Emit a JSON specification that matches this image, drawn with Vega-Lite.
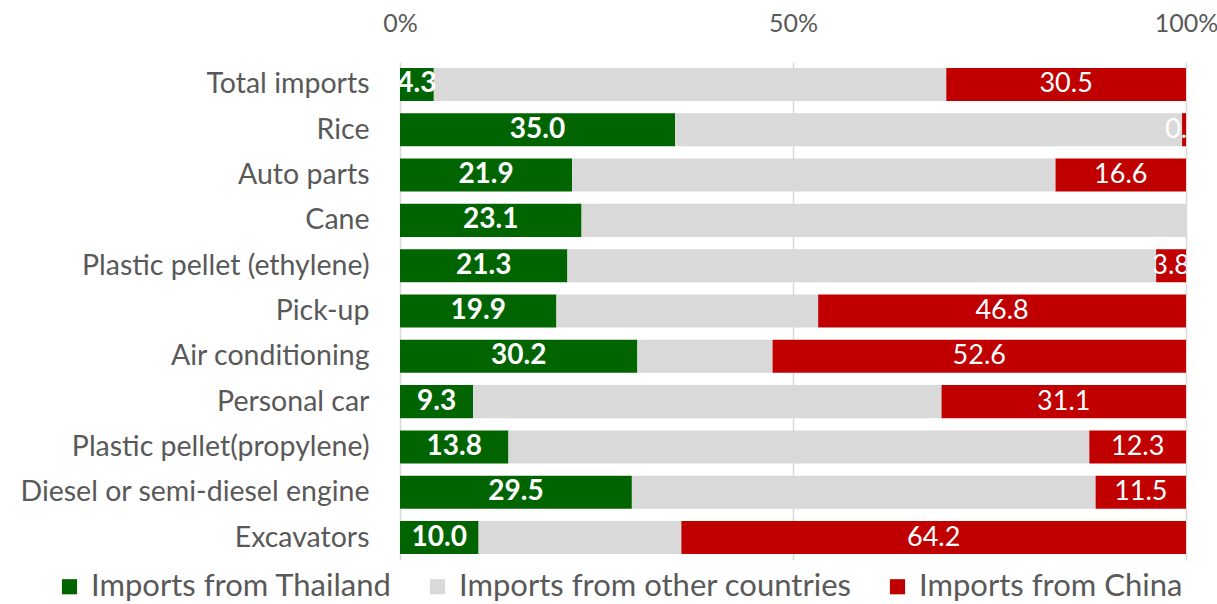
{
  "$schema": "https://vega.github.io/schema/vega-lite/v6.json",
  "width": 786,
  "height": 498,
  "autosize": "none",
  "padding": {"left": 400, "top": 62, "right": 31, "bottom": 44},
  "background": "white",
  "config": {
    "font": "Lato",
    "view": {"stroke": null},
    "axis": {"labelColor": "#595959", "labelFont": "Lato", "domain": false, "ticks": false, "title": null},
    "legend": {"labelColor": "#595959", "labelFont": "Lato"}
  },
  "data": {
    "values": [
      {"category": "Total imports", "series": "Imports from Thailand", "value": 4.3},
      {"category": "Total imports", "series": "Imports from other countries", "value": 65.2},
      {"category": "Total imports", "series": "Imports from China", "value": 30.5},
      {"category": "Rice", "series": "Imports from Thailand", "value": 35.0},
      {"category": "Rice", "series": "Imports from other countries", "value": 64.5},
      {"category": "Rice", "series": "Imports from China", "value": 0.5},
      {"category": "Auto parts", "series": "Imports from Thailand", "value": 21.9},
      {"category": "Auto parts", "series": "Imports from other countries", "value": 61.5},
      {"category": "Auto parts", "series": "Imports from China", "value": 16.6},
      {"category": "Cane", "series": "Imports from Thailand", "value": 23.1},
      {"category": "Cane", "series": "Imports from other countries", "value": 76.9},
      {"category": "Cane", "series": "Imports from China", "value": 0},
      {"category": "Plastic pellet (ethylene)", "series": "Imports from Thailand", "value": 21.3},
      {"category": "Plastic pellet (ethylene)", "series": "Imports from other countries", "value": 74.9},
      {"category": "Plastic pellet (ethylene)", "series": "Imports from China", "value": 3.8},
      {"category": "Pick-up", "series": "Imports from Thailand", "value": 19.9},
      {"category": "Pick-up", "series": "Imports from other countries", "value": 33.3},
      {"category": "Pick-up", "series": "Imports from China", "value": 46.8},
      {"category": "Air conditioning", "series": "Imports from Thailand", "value": 30.2},
      {"category": "Air conditioning", "series": "Imports from other countries", "value": 17.2},
      {"category": "Air conditioning", "series": "Imports from China", "value": 52.6},
      {"category": "Personal car", "series": "Imports from Thailand", "value": 9.3},
      {"category": "Personal car", "series": "Imports from other countries", "value": 59.6},
      {"category": "Personal car", "series": "Imports from China", "value": 31.1},
      {"category": "Plastic pellet(propylene)", "series": "Imports from Thailand", "value": 13.8},
      {"category": "Plastic pellet(propylene)", "series": "Imports from other countries", "value": 73.9},
      {"category": "Plastic pellet(propylene)", "series": "Imports from China", "value": 12.3},
      {"category": "Diesel or semi-diesel engine", "series": "Imports from Thailand", "value": 29.5},
      {"category": "Diesel or semi-diesel engine", "series": "Imports from other countries", "value": 59.0},
      {"category": "Diesel or semi-diesel engine", "series": "Imports from China", "value": 11.5},
      {"category": "Excavators", "series": "Imports from Thailand", "value": 10.0},
      {"category": "Excavators", "series": "Imports from other countries", "value": 25.8},
      {"category": "Excavators", "series": "Imports from China", "value": 64.2}
    ]
  },
  "transform": [
    {"calculate": "indexof(['Imports from Thailand','Imports from other countries','Imports from China'], datum.series)", "as": "o"},
    {"stack": "value", "groupby": ["category"], "sort": [{"field": "o", "order": "ascending"}], "offset": "normalize", "as": ["x0", "x1"]},
    {"calculate": "(datum.x0 + datum.x1) / 2", "as": "xm"}
  ],
  "encoding": {
    "y": {
      "field": "category",
      "type": "nominal",
      "sort": ["Total imports", "Rice", "Auto parts", "Cane", "Plastic pellet (ethylene)", "Pick-up", "Air conditioning", "Personal car", "Plastic pellet(propylene)", "Diesel or semi-diesel engine", "Excavators"],
      "scale": {"paddingInner": 0.27, "paddingOuter": 0.13},
      "axis": {"labelFontSize": 28.5, "labelPadding": 31, "labelLimit": 400}
    }
  },
  "layer": [
    {
      "mark": {"type": "bar"},
      "encoding": {
        "x": {
          "field": "x0",
          "type": "quantitative",
          "scale": {"domain": [0, 1], "nice": false},
          "axis": {"orient": "top", "format": "%", "values": [0, 0.5, 1], "labelFontSize": 25, "labelPadding": 26, "labelFlush": false, "grid": true, "gridColor": "#d9d9d9", "gridWidth": 1.5}
        },
        "x2": {"field": "x1"},
        "color": {
          "field": "series",
          "type": "nominal",
          "scale": {"domain": ["Imports from Thailand", "Imports from other countries", "Imports from China"], "range": ["#006400", "#d9d9d9", "#c00000"]},
          "legend": {
            "title": null,
            "orient": "none",
            "direction": "horizontal",
            "legendX": -346,
            "legendY": 509,
            "symbolType": "square",
            "symbolSize": 230,
            "symbolStrokeWidth": 0,
            "labelFontSize": 31,
            "labelOffset": 6,
            "columnPadding": 30,
            "labelLimit": 500
          }
        }
      }
    },
    {
      "transform": [{"filter": "datum.series == 'Imports from Thailand'"}],
      "mark": {"type": "text", "color": "white", "fontSize": 28, "fontWeight": "bold", "clip": true, "baseline": "middle"},
      "encoding": {
        "x": {"field": "xm", "type": "quantitative"},
        "text": {"field": "value", "type": "quantitative", "format": ".1f"}
      }
    },
    {
      "transform": [{"filter": "datum.series == 'Imports from China' && datum.value > 0"}],
      "mark": {"type": "text", "color": "white", "fontSize": 27, "clip": true, "baseline": "middle"},
      "encoding": {
        "x": {"field": "xm", "type": "quantitative"},
        "text": {"field": "value", "type": "quantitative", "format": ".1f"}
      }
    }
  ]
}
